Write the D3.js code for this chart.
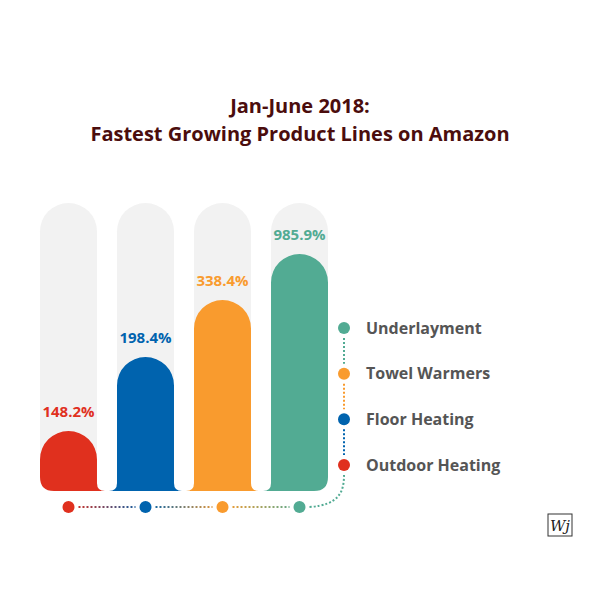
<!DOCTYPE html>
<html><head><meta charset="utf-8">
<script src="https://cdn.jsdelivr.net/npm/d3@7"></script>
<style>body{margin:0;background:#fff}</style></head>
<body><svg id="c" width="600" height="600"></svg>
<script>
const categories = ["Outdoor Heating","Floor Heating","Towel Warmers","Underlayment"];
const values = [148.2,198.4,338.4,985.9];
const colors = ["#e0301e","#0063ae","#f99b2e","#52ab93"];
const legendOrder = ["Underlayment","Towel Warmers","Floor Heating","Outdoor Heating"];

const FONT="'Open Sans', Lato, sans-serif";
const svg = d3.select("#c");
const bottom = 491;
const x = d3.scaleBand().domain(categories).range([40,328]).paddingInner(0.26).paddingOuter(0);
// infographic (non-linear) scale of growth to bar top
const y = d3.scaleLinear().domain([0].concat(values)).range([bottom,431,357,300,254]);
const bgTop = 203;

svg.append("text").attr("x",300).attr("y",113).attr("text-anchor","middle")
  .attr("font-family",FONT).attr("font-weight",700).attr("font-size",20)
  .attr("fill","#4b0d0d").text("Jan-June 2018:");
svg.append("text").attr("x",300).attr("y",141).attr("text-anchor","middle")
  .attr("font-family",FONT).attr("font-weight",700).attr("font-size",20)
  .attr("fill","#4b0d0d").text("Fastest Growing Product Lines on Amazon");

function barPath(x0,x1,top,leftFlare,rightFlare){
  const w=x1-x0, r=w/2, f=8, rc=14;
  const p=d3.path();
  p.moveTo(x0,top+r);
  p.arc(x0+r,top+r,r,Math.PI,0);
  if(rightFlare){ p.lineTo(x1,bottom-f); p.quadraticCurveTo(x1,bottom,x1+f,bottom); }
  else { p.lineTo(x1,bottom-rc); p.quadraticCurveTo(x1,bottom,x1-rc,bottom); }
  if(leftFlare){ p.lineTo(x0-f,bottom); p.quadraticCurveTo(x0,bottom,x0,bottom-f); }
  else { p.lineTo(x0+rc,bottom); p.quadraticCurveTo(x0,bottom,x0,bottom-rc); }
  p.closePath();
  return p.toString();
}
const n=categories.length;
svg.selectAll("path.bg").data(categories).join("path").attr("class","bg")
  .attr("fill","#f2f2f2")
  .attr("d",d=>{const x0=x(d),x1=x0+x.bandwidth(),r=x.bandwidth()/2;
    const p=d3.path();p.moveTo(x0,bottom-20);p.lineTo(x0,bgTop+r);p.arc(x0+r,bgTop+r,r,Math.PI,0);p.lineTo(x1,bottom-20);p.closePath();return p.toString();});
svg.selectAll("path.bar").data(categories).join("path").attr("class","bar")
  .attr("fill",(d,i)=>colors[i])
  .attr("d",(d,i)=>barPath(x(d),x(d)+x.bandwidth(),y(values[i]),i>0,i<n-1));
svg.selectAll("text.val").data(categories).join("text").attr("class","val")
  .attr("x",d=>x(d)+x.bandwidth()/2).attr("y",(d,i)=>y(values[i])-14)
  .attr("text-anchor","middle").attr("font-family",FONT)
  .attr("font-weight",700).attr("font-size",15).attr("fill",(d,i)=>colors[i])
  .text((d,i)=>values[i].toFixed(1)+"%");

const dotY=507;
const cx=d=>x(d)+x.bandwidth()/2;
for(let i=0;i<n-1;i++){
  const a=cx(categories[i]),b=cx(categories[i+1]);
  const g=svg.append("defs").append("linearGradient").attr("id","g"+i)
    .attr("gradientUnits","userSpaceOnUse").attr("x1",a).attr("x2",b).attr("y1",0).attr("y2",0);
  g.append("stop").attr("offset",0).attr("stop-color",colors[i]);
  g.append("stop").attr("offset",1).attr("stop-color",colors[i+1]);
  svg.append("line").attr("x1",a+10).attr("x2",b-10).attr("y1",dotY).attr("y2",dotY)
    .attr("stroke","url(#g"+i+")").attr("stroke-width",2).attr("stroke-dasharray","2,2");
}
svg.selectAll("circle.bd").data(categories).join("circle").attr("class","bd")
  .attr("cx",cx).attr("cy",dotY).attr("r",6).attr("fill",(d,i)=>colors[i]);

const ly=d3.scalePoint().domain(legendOrder).range([328,465]);
const lx=344;
const lastX=cx(categories[n-1]);
svg.append("path").attr("d",`M${lastX+10},${dotY} C${lx-5},${dotY-2} ${lx},${dotY-15} ${lx},${ly("Outdoor Heating")+10}`)
  .attr("fill","none").attr("stroke",colors[3]).attr("stroke-width",2).attr("stroke-dasharray","2,2");
for(let i=0;i<legendOrder.length-1;i++){
  svg.append("line").attr("x1",lx).attr("x2",lx).attr("y1",ly(legendOrder[i])+10).attr("y2",ly(legendOrder[i+1])-10)
    .attr("stroke",colors[categories.indexOf(legendOrder[i])]).attr("stroke-width",2).attr("stroke-dasharray","2,2");
}
const lg=svg.selectAll("g.lg").data(legendOrder).join("g").attr("class","lg")
  .attr("transform",d=>`translate(${lx},${ly(d)})`);
lg.append("circle").attr("r",6).attr("fill",d=>colors[categories.indexOf(d)]);
lg.append("text").attr("x",22).attr("dy","0.35em").attr("font-family",FONT)
  .attr("font-weight",700).attr("font-size",16).attr("fill","#555").text(d=>d);

const logo=svg.append("g").attr("transform","translate(548,514)");
logo.append("rect").attr("width",24).attr("height",22).attr("fill","none").attr("stroke","#333").attr("stroke-width",1);
logo.append("text").attr("x",12).attr("y",17).attr("text-anchor","middle").attr("font-family","DejaVu Serif, serif")
  .attr("font-style","italic").attr("font-size",15).attr("fill","#222").text("Wj");
</script></body></html>
